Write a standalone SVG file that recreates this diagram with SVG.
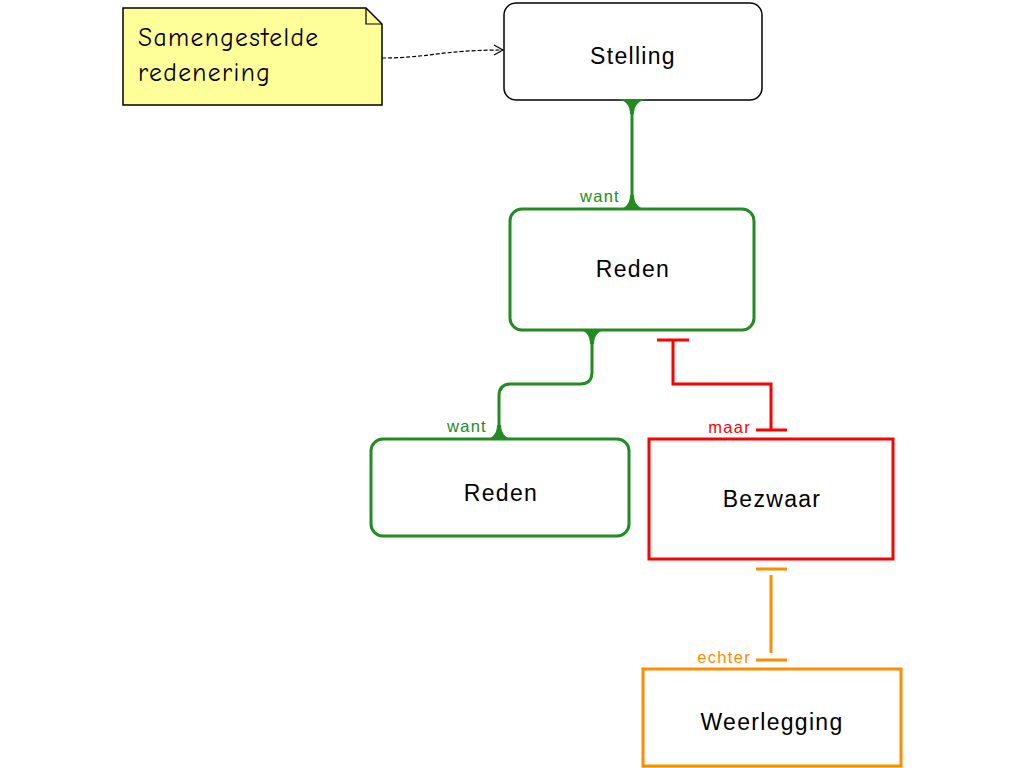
<svg xmlns="http://www.w3.org/2000/svg" width="1024" height="768" viewBox="0 0 1024 768">
<style>
.lbl{font-family:"Liberation Sans",Arial,sans-serif;font-size:23px;letter-spacing:1.3px;fill:#000;text-anchor:middle}
.cl{font-family:"Liberation Sans",Arial,sans-serif;font-size:16.5px;letter-spacing:1.3px;text-anchor:end}
.note{font-family:"Comic Sans MS","Comic Neue","DejaVu Sans",sans-serif;font-size:25.5px;letter-spacing:1.4px;fill:#000}
.g{stroke:#228b22;fill:none;stroke-width:3}
.r{stroke:#ff0000;fill:none;stroke-width:3}
.o{stroke:#ff8c00;fill:none;stroke-width:3}
</style>
<defs>
<marker id="open" markerWidth="12" markerHeight="12" refX="10" refY="6" orient="auto" markerUnits="userSpaceOnUse">
<path d="M1,1 L10,6 L1,11" fill="none" stroke="#000" stroke-width="1.2"/>
</marker>
</defs>
<rect width="1024" height="768" fill="#fff"/>
<g id="note">
<path d="M123,8 L366,8 L382,24 L382,105 L123,105 Z" fill="#ffff99" stroke="#000" stroke-width="1.5"/>
<path d="M366,8 L366,24 L382,24" fill="none" stroke="#000" stroke-width="1.2"/>
<text class="note" x="138" y="46">Samengestelde</text>
<text class="note" x="138" y="81">redenering</text>
</g>
<g id="stelling">
<rect x="504" y="3" width="258" height="97" rx="12" fill="#fff" stroke="#000" stroke-width="1.5"/>
<text class="lbl" x="633" y="64">Stelling</text>
</g>
<g id="reden1">
<rect x="510" y="209" width="244" height="121" rx="12" fill="#fff" stroke="#228b22" stroke-width="3"/>
<text class="lbl" x="633" y="277">Reden</text>
</g>
<g id="reden2">
<rect x="371" y="439" width="258" height="97" rx="12" fill="#fff" stroke="#228b22" stroke-width="3"/>
<text class="lbl" x="501" y="501">Reden</text>
</g>
<g id="bezwaar">
<rect x="649" y="439" width="244" height="120" fill="#fff" stroke="#ff0000" stroke-width="3"/>
<text class="lbl" x="772" y="507">Bezwaar</text>
</g>
<g id="weerlegging">
<rect x="643" y="669" width="258" height="97" fill="#fff" stroke="#ff8c00" stroke-width="3"/>
<text class="lbl" x="772" y="730">Weerlegging</text>
</g>
<g id="connectors">
<path d="M382,58 C430,58 440,50 503,50" fill="none" stroke="#000" stroke-width="1.2" stroke-dasharray="4,2" marker-end="url(#open)"/>
<path class="g" d="M632,100 L632,209"/>
<path d="M617,99 Q630,101 630,114 L634,114 Q634,101 648,99 Z" fill="#228b22"/>
<path d="M617,210 Q630,208 630,195 L634,195 Q634,208 648,210 Z" fill="#228b22"/>
<text class="cl" x="620" y="202" fill="#228b22">want</text>
<path class="g" d="M592,330 L592,372 Q592,384 580,384 L511,384 Q499,384 499,396 L499,439"/>
<path d="M577,329 Q590,331 590,344 L594,344 Q594,331 608,329 Z" fill="#228b22"/>
<path d="M484,440 Q497,438 497,425 L501,425 Q501,438 515,440 Z" fill="#228b22"/>
<text class="cl" x="487" y="432" fill="#228b22">want</text>
<path class="r" d="M657,340 L689,340 M673,340 L673,384 L771,384 L771,430 M756,430 L787,430"/>
<text class="cl" x="751" y="433" fill="#ff0000">maar</text>
<path class="o" d="M756,569 L787,569 M771,575 L771,653 M756,660 L787,660"/>
<text class="cl" x="751" y="663" fill="#ff8c00">echter</text>
</g>
</svg>
